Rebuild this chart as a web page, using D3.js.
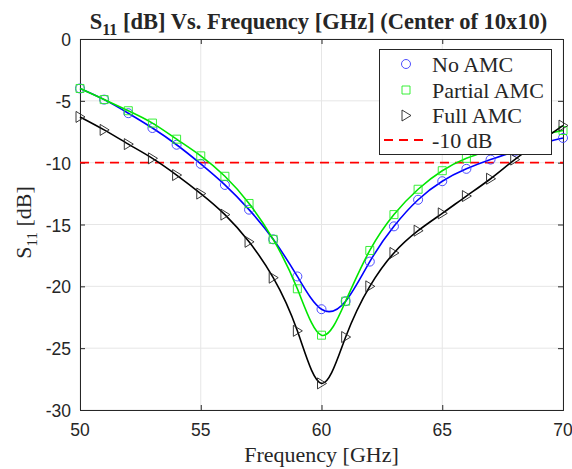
<!DOCTYPE html>
<html>
<head>
<meta charset="utf-8">
<script src="https://cdn.jsdelivr.net/npm/d3@7"></script>
<style>
	body { margin: 0; background: #fff; }
	.tickLabel { font-family: "Liberation Sans", Arial, sans-serif; font-size: 17.5px; fill: #262626; }
	.serif { font-family: "Liberation Serif", "Times New Roman", serif; fill: #262626; }
</style>
</head>
<body>
<script>
//data
var freq = [50, 51, 52, 53, 54, 55, 56, 57, 58, 59, 60, 61, 62, 63, 64, 65, 66, 67, 68, 69, 70];
var noAMC = [-4.0, -4.9, -6.0, -7.2, -8.55, -10.1, -11.8, -13.8, -16.2, -19.2, -21.85, -21.2, -18.0, -15.15, -13.0, -11.5, -10.5, -9.75, -9.1, -8.5, -8.0];
var partialAMC = [-4.0, -4.9, -5.8, -6.8, -8.1, -9.45, -11.1, -13.3, -16.2, -20.2, -23.95, -21.2, -17.1, -14.2, -12.15, -10.65, -9.65, -8.95, -8.3, -7.8, -7.4];
var fullAMC = [-6.3, -7.35, -8.5, -9.65, -11.0, -12.5, -14.2, -16.4, -19.3, -23.6, -27.85, -24.1, -20.0, -17.3, -15.5, -14.1, -12.7, -11.3, -9.75, -8.35, -7.0];
var refLevel = -10;
var xTicks = [50, 55, 60, 65, 70];
var yTicks = [0, -5, -10, -15, -20, -25, -30];
var legendLabels = ["No AMC", "Partial AMC", "Full AMC", "-10 dB"];

window.onload = setChart();

function setChart(){
	//frame dimensions
	var width = 572,
		height = 469,
		left = 80,
		right = 563,
		top = 39,
		bottom = 410;

	var svg = d3.select("body")
		.append("svg")
		.attr("width", width)
		.attr("height", height);

	var x = d3.scaleLinear().domain([50, 70]).range([left, right]);
	var y = d3.scaleLinear().domain([-30, 0]).range([bottom, top]);

	//grid lines
	svg.selectAll(".gridX")
		.data(xTicks)
		.enter()
		.append("line")
		.attr("x1", function(d){ return x(d); })
		.attr("x2", function(d){ return x(d); })
		.attr("y1", top)
		.attr("y2", bottom)
		.attr("stroke", "#e6e6e6")
		.attr("stroke-width", 1);

	svg.selectAll(".gridY")
		.data(yTicks)
		.enter()
		.append("line")
		.attr("x1", left)
		.attr("x2", right)
		.attr("y1", function(d){ return y(d); })
		.attr("y2", function(d){ return y(d); })
		.attr("stroke", "#e6e6e6")
		.attr("stroke-width", 1);

	//axes, ticks pointing inward
	var xAxis = d3.axisBottom(x).tickValues(xTicks).tickSize(-5).tickFormat("");
	var xAxisTop = d3.axisTop(x).tickValues(xTicks).tickSize(-5).tickFormat("");
	var yAxis = d3.axisLeft(y).tickValues(yTicks).tickSize(-5).tickFormat("");
	var yAxisRight = d3.axisRight(y).tickValues(yTicks).tickSize(-5).tickFormat("");

	svg.append("g").attr("class", "axis").attr("transform", "translate(0," + bottom + ")").call(xAxis);
	svg.append("g").attr("class", "axis").attr("transform", "translate(0," + top + ")").call(xAxisTop);
	svg.append("g").attr("class", "axis").attr("transform", "translate(" + left + ",0)").call(yAxis);
	svg.append("g").attr("class", "axis").attr("transform", "translate(" + right + ",0)").call(yAxisRight);

	svg.selectAll(".axis path, .axis line")
		.attr("stroke", "#262626")
		.attr("stroke-width", 1);

	//tick labels
	svg.selectAll(".xLabel")
		.data(xTicks)
		.enter()
		.append("text")
		.attr("class", "tickLabel")
		.attr("x", function(d){ return x(d); })
		.attr("y", bottom + 26)
		.attr("text-anchor", "middle")
		.text(function(d){ return d; });

	svg.selectAll(".yLabel")
		.data(yTicks)
		.enter()
		.append("text")
		.attr("class", "tickLabel")
		.attr("x", left - 9)
		.attr("y", function(d){ return y(d) + 7; })
		.attr("text-anchor", "end")
		.text(function(d){ return d; });

	//title
	var title = svg.append("text")
		.attr("class", "serif")
		.attr("x", (left + right) / 2 - 3)
		.attr("y", 29)
		.attr("text-anchor", "middle")
		.style("font-size", "22.5px")
		.style("font-weight", "bold");
	title.append("tspan").text("S");
	title.append("tspan").attr("dy", 6).style("font-size", "16px").text("11");
	title.append("tspan").attr("dy", -6).text(" [dB] Vs. Frequency [GHz] (Center of 10x10)");

	//x label
	svg.append("text")
		.attr("class", "serif")
		.attr("x", (left + right) / 2)
		.attr("y", 462)
		.attr("text-anchor", "middle")
		.style("font-size", "22px")
		.text("Frequency [GHz]");

	//y label
	var yLab = svg.append("text")
		.attr("class", "serif")
		.attr("transform", "translate(31," + ((top + bottom) / 2 - 2) + ") rotate(-90)")
		.attr("text-anchor", "middle")
		.style("font-size", "22px");
	yLab.append("tspan").text("S");
	yLab.append("tspan").attr("dy", 6).style("font-size", "15px").text("11");
	yLab.append("tspan").attr("dy", -6).text(" [dB]");

	//-10 dB reference line
	svg.append("line")
		.attr("x1", left)
		.attr("x2", right)
		.attr("y1", y(refLevel))
		.attr("y2", y(refLevel))
		.attr("stroke", "#ff0000")
		.attr("stroke-width", 1.8)
		.attr("stroke-dasharray", "9,6");

	//series
	var series = [
		{ name: legendLabels[0], values: noAMC, color: "#0000ff", marker: "circle" },
		{ name: legendLabels[1], values: partialAMC, color: "#00e600", marker: "square" },
		{ name: legendLabels[2], values: fullAMC, color: "#000000", marker: "triangle" }
	];

	var line = d3.line()
		.x(function(d){ return x(d[0]); })
		.y(function(d){ return y(d[1]); })
		.curve(d3.curveNatural);

	function markerPath(type){
		if (type == "circle") return "M4.5,0A4.5,4.5 0 1,1 -4.5,0A4.5,4.5 0 1,1 4.5,0Z";
		if (type == "square") return "M-4,-4H4V4H-4Z";
		return "M-4,-5.5L5,0L-4,5.5Z";
	}

	series.forEach(function(s){
		var pts = freq.map(function(f, i){ return [f, s.values[i]]; });

		svg.append("path")
			.datum(pts)
			.attr("d", line)
			.attr("fill", "none")
			.attr("stroke", s.color)
			.attr("stroke-width", 1.6);

		svg.selectAll(".marker")
			.data(pts)
			.enter()
			.append("path")
			.attr("transform", function(d){ return "translate(" + x(d[0]) + "," + y(d[1]) + ")"; })
			.attr("d", markerPath(s.marker))
			.attr("fill", "none")
			.attr("stroke", s.marker == "circle" ? "#3a3aff" : (s.marker == "square" ? "#22ee22" : "#222"))
			.attr("stroke-width", 0.9);
	});

	//legend
	var legend = svg.append("g");
	legend.append("rect")
		.attr("x", 379.5)
		.attr("y", 49.5)
		.attr("width", 172)
		.attr("height", 105)
		.attr("fill", "#fff")
		.attr("stroke", "#262626")
		.attr("stroke-width", 1);

	var rowY = [64, 90, 115.5, 140];

	series.forEach(function(s, i){
		legend.append("path")
			.attr("transform", "translate(406," + rowY[i] + ")")
			.attr("d", markerPath(s.marker))
			.attr("fill", "none")
			.attr("stroke", s.marker == "circle" ? "#3a3aff" : (s.marker == "square" ? "#22ee22" : "#222"))
			.attr("stroke-width", 0.9);
	});

	legend.append("line")
		.attr("x1", 384)
		.attr("x2", 428)
		.attr("y1", rowY[3])
		.attr("y2", rowY[3])
		.attr("stroke", "#ff0000")
		.attr("stroke-width", 1.8)
		.attr("stroke-dasharray", "9,6");

	legend.selectAll(".legendText")
		.data(legendLabels)
		.enter()
		.append("text")
		.attr("class", "serif")
		.attr("x", 432)
		.attr("y", function(d, i){ return rowY[i] + 7.5; })
		.style("font-size", "22px")
		.text(function(d){ return d; });
};
</script>
</body>
</html>
